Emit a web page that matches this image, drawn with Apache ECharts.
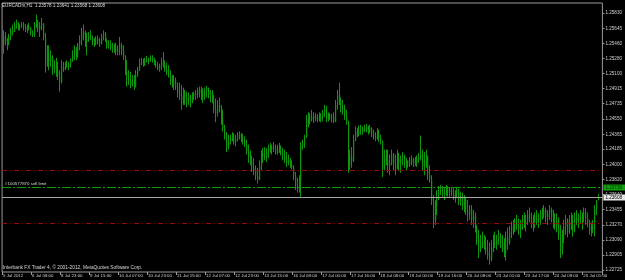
<!DOCTYPE html>
<html><head><meta charset="utf-8">
<script src="https://cdn.jsdelivr.net/npm/echarts@6/dist/echarts.min.js"></script>
<style>html,body{margin:0;padding:0;background:#000}#c{width:625px;height:280px}</style>
</head><body><div id="c"></div>
<script>
const symbolTitle = 'EURCADm,H1  1.23578 1.23641 1.23568 1.23608';
const footerText = 'Interbank FX Trader 4, \u00A9 2001-2012, MetaQuotes Software Corp.';
const orderLabel = '#100577870 sell limit';
const timeLabels = ['5 Jul 2012','6 Jul 08:00','8 Jul 23:00','9 Jul 15:00','10 Jul 07:00','10 Jul 23:00','11 Jul 15:00','12 Jul 07:00','12 Jul 23:00','13 Jul 15:00','16 Jul 08:00','17 Jul 00:00','17 Jul 16:00','18 Jul 08:00','19 Jul 00:00','19 Jul 16:00','20 Jul 08:00','23 Jul 01:00','23 Jul 17:00','24 Jul 09:00','25 Jul 01:00'];
const timeLabelBars = [0,16,32,48,64,80,96,112,128,144,160,176,192,208,224,240,256,272,288,304,320];
const priceTicks = [1.25830,1.25645,1.25460,1.25280,1.25100,1.24915,1.24735,1.24550,1.24365,1.24185,1.24000,1.23820,1.23640,1.23455,1.23270,1.23090,1.22905,1.22725];
const priceMin = 1.22701, priceMax = 1.25951;
const stopLossLevel = 1.23935;
const takeProfitLevel = 1.23290;
const sellLimitLevel = 1.23730;
const bidLevel = 1.23608;
// [open, high, low, close]
const ohlc = [
[1.2545,1.2562,1.2534,1.2555],[1.2555,1.2560,1.2544,1.2548],[1.2548,1.2553,1.2538,1.2545],[1.2545,1.2558,1.2544,1.2555],[1.2555,1.2565,1.2550,1.2562],
[1.2562,1.2569,1.2556,1.2560],[1.2560,1.2572,1.2560,1.2568],[1.2568,1.2575,1.2564,1.2571],[1.2571,1.2572,1.2562,1.2565],[1.2565,1.2570,1.2562,1.2567],
[1.2567,1.2572,1.2565,1.2569],[1.2569,1.2572,1.2562,1.2566],[1.2566,1.2570,1.2560,1.2563],[1.2563,1.2569,1.2559,1.2567],[1.2567,1.2571,1.2562,1.2565],
[1.2565,1.2566,1.2556,1.2559],[1.2559,1.2562,1.2554,1.2556],[1.2556,1.2572,1.2554,1.2569],[1.2569,1.2581,1.2565,1.2574],[1.2574,1.2575,1.2560,1.2563],
[1.2563,1.2572,1.2554,1.2568],[1.2568,1.2577,1.2562,1.2570],[1.2570,1.2571,1.2550,1.2553],[1.2553,1.2559,1.2511,1.2520],[1.2520,1.2544,1.2518,1.2532],
[1.2532,1.2544,1.2514,1.2525],[1.2525,1.2538,1.2518,1.2530],[1.2530,1.2532,1.2508,1.2515],[1.2515,1.2526,1.2510,1.2520],[1.2520,1.2529,1.2506,1.2512],
[1.2512,1.2524,1.2502,1.2507],[1.2507,1.2514,1.2488,1.2500],[1.2500,1.2526,1.2498,1.2518],[1.2518,1.2524,1.2512,1.2515],[1.2515,1.2524,1.2514,1.2520],
[1.2520,1.2526,1.2517,1.2518],[1.2518,1.2524,1.2514,1.2521],[1.2521,1.2528,1.2517,1.2526],[1.2526,1.2538,1.2524,1.2532],[1.2532,1.2544,1.2526,1.2540],
[1.2540,1.2542,1.2526,1.2530],[1.2530,1.2547,1.2529,1.2545],[1.2545,1.2556,1.2538,1.2550],[1.2550,1.2565,1.2544,1.2560],[1.2560,1.2569,1.2550,1.2556],
[1.2556,1.2562,1.2542,1.2548],[1.2548,1.2559,1.2532,1.2552],[1.2552,1.2560,1.2548,1.2556],[1.2556,1.2562,1.2550,1.2553],[1.2553,1.2556,1.2544,1.2548],
[1.2548,1.2553,1.2542,1.2545],[1.2545,1.2555,1.2544,1.2552],[1.2552,1.2556,1.2545,1.2549],[1.2549,1.2553,1.2542,1.2546],[1.2546,1.2558,1.2545,1.2555],
[1.2555,1.2562,1.2550,1.2558],[1.2558,1.2560,1.2548,1.2550],[1.2550,1.2552,1.2540,1.2543],[1.2543,1.2550,1.2540,1.2546],[1.2546,1.2550,1.2538,1.2541],
[1.2541,1.2547,1.2535,1.2539],[1.2539,1.2546,1.2535,1.2543],[1.2543,1.2547,1.2532,1.2536],[1.2536,1.2544,1.2532,1.2540],[1.2540,1.2554,1.2532,1.2545],
[1.2545,1.2547,1.2532,1.2537],[1.2537,1.2544,1.2526,1.2530],[1.2530,1.2532,1.2508,1.2512],[1.2512,1.2526,1.2494,1.2505],[1.2505,1.2514,1.2496,1.2500],
[1.2500,1.2512,1.2492,1.2496],[1.2496,1.2508,1.2494,1.2502],[1.2502,1.2508,1.2490,1.2494],[1.2494,1.2514,1.2493,1.2508],[1.2508,1.2518,1.2506,1.2515],
[1.2515,1.2528,1.2513,1.2522],[1.2522,1.2529,1.2520,1.2524],[1.2524,1.2528,1.2518,1.2520],[1.2520,1.2529,1.2519,1.2526],[1.2526,1.2531,1.2523,1.2524],
[1.2524,1.2529,1.2521,1.2527],[1.2527,1.2532,1.2524,1.2529],[1.2529,1.2532,1.2523,1.2525],[1.2525,1.2529,1.2520,1.2522],[1.2522,1.2526,1.2517,1.2519],
[1.2519,1.2524,1.2514,1.2516],[1.2516,1.2522,1.2512,1.2520],[1.2520,1.2529,1.2514,1.2523],[1.2523,1.2536,1.2517,1.2520],[1.2520,1.2526,1.2512,1.2515],
[1.2515,1.2523,1.2508,1.2511],[1.2511,1.2520,1.2505,1.2508],[1.2508,1.2514,1.2496,1.2499],[1.2499,1.2508,1.2493,1.2496],[1.2496,1.2508,1.2490,1.2502],
[1.2502,1.2505,1.2490,1.2494],[1.2494,1.2499,1.2481,1.2486],[1.2486,1.2499,1.2478,1.2483],[1.2483,1.2496,1.2466,1.2474],[1.2474,1.2493,1.2472,1.2488],
[1.2488,1.2490,1.2472,1.2480],[1.2480,1.2488,1.2469,1.2477],[1.2477,1.2487,1.2472,1.2483],[1.2483,1.2484,1.2469,1.2475],[1.2475,1.2487,1.2474,1.2482],
[1.2482,1.2488,1.2478,1.2486],[1.2486,1.2490,1.2478,1.2484],[1.2484,1.2493,1.2480,1.2490],[1.2490,1.2494,1.2481,1.2486],[1.2486,1.2494,1.2478,1.2490],
[1.2490,1.2492,1.2474,1.2480],[1.2480,1.2493,1.2478,1.2489],[1.2489,1.2495,1.2481,1.2492],[1.2492,1.2493,1.2480,1.2484],[1.2484,1.2490,1.2475,1.2488],
[1.2488,1.2490,1.2474,1.2478],[1.2478,1.2484,1.2462,1.2467],[1.2467,1.2480,1.2451,1.2462],[1.2462,1.2478,1.2458,1.2472],[1.2472,1.2481,1.2463,1.2468],
[1.2468,1.2472,1.2448,1.2454],[1.2454,1.2466,1.2440,1.2444],[1.2444,1.2448,1.2430,1.2436],[1.2436,1.2439,1.2415,1.2420],[1.2420,1.2436,1.2418,1.2428],
[1.2428,1.2436,1.2424,1.2432],[1.2432,1.2439,1.2428,1.2435],[1.2435,1.2438,1.2424,1.2427],[1.2427,1.2436,1.2422,1.2431],[1.2431,1.2439,1.2428,1.2436],
[1.2436,1.2440,1.2430,1.2433],[1.2433,1.2438,1.2427,1.2430],[1.2430,1.2437,1.2424,1.2428],[1.2428,1.2434,1.2421,1.2424],[1.2424,1.2430,1.2412,1.2416],
[1.2416,1.2424,1.2402,1.2408],[1.2408,1.2417,1.2399,1.2404],[1.2404,1.2411,1.2391,1.2396],[1.2396,1.2408,1.2387,1.2392],[1.2392,1.2399,1.2381,1.2386],
[1.2386,1.2396,1.2377,1.2382],[1.2382,1.2405,1.2381,1.2398],[1.2398,1.2417,1.2393,1.2410],[1.2410,1.2420,1.2402,1.2414],[1.2414,1.2421,1.2405,1.2408],
[1.2408,1.2420,1.2403,1.2416],[1.2416,1.2424,1.2408,1.2420],[1.2420,1.2426,1.2414,1.2418],[1.2418,1.2424,1.2412,1.2422],[1.2422,1.2427,1.2415,1.2420],
[1.2420,1.2424,1.2412,1.2414],[1.2414,1.2424,1.2412,1.2419],[1.2419,1.2426,1.2414,1.2416],[1.2416,1.2423,1.2411,1.2413],[1.2413,1.2420,1.2405,1.2410],
[1.2410,1.2418,1.2402,1.2406],[1.2406,1.2415,1.2397,1.2402],[1.2402,1.2412,1.2399,1.2405],[1.2405,1.2408,1.2396,1.2400],[1.2400,1.2405,1.2394,1.2396],
[1.2396,1.2399,1.2381,1.2386],[1.2386,1.2391,1.2369,1.2374],[1.2374,1.2384,1.2366,1.2372],[1.2372,1.2387,1.2366,1.2380],[1.2380,1.2427,1.2361,1.2422],
[1.2422,1.2430,1.2418,1.2425],[1.2425,1.2436,1.2420,1.2433],[1.2433,1.2460,1.2432,1.2456],[1.2456,1.2463,1.2445,1.2450],[1.2450,1.2462,1.2448,1.2458],
[1.2458,1.2466,1.2452,1.2455],[1.2455,1.2463,1.2450,1.2459],[1.2459,1.2462,1.2452,1.2454],[1.2454,1.2461,1.2451,1.2458],[1.2458,1.2463,1.2452,1.2455],
[1.2455,1.2462,1.2451,1.2457],[1.2457,1.2466,1.2452,1.2462],[1.2462,1.2472,1.2457,1.2466],[1.2466,1.2471,1.2451,1.2455],[1.2455,1.2463,1.2452,1.2460],
[1.2460,1.2462,1.2454,1.2456],[1.2456,1.2461,1.2451,1.2458],[1.2458,1.2463,1.2450,1.2452],[1.2452,1.2478,1.2451,1.2472],[1.2472,1.2490,1.2466,1.2484],
[1.2484,1.2499,1.2472,1.2478],[1.2478,1.2481,1.2463,1.2470],[1.2470,1.2478,1.2460,1.2467],[1.2467,1.2472,1.2454,1.2458],[1.2458,1.2466,1.2448,1.2452],
[1.2452,1.2453,1.2390,1.2400],[1.2400,1.2418,1.2393,1.2410],[1.2410,1.2421,1.2396,1.2404],[1.2404,1.2436,1.2403,1.2430],[1.2430,1.2446,1.2428,1.2440],
[1.2440,1.2444,1.2433,1.2436],[1.2436,1.2447,1.2434,1.2442],[1.2442,1.2448,1.2436,1.2440],[1.2440,1.2446,1.2436,1.2444],[1.2444,1.2448,1.2439,1.2441],
[1.2441,1.2449,1.2439,1.2445],[1.2445,1.2447,1.2436,1.2439],[1.2439,1.2448,1.2438,1.2444],[1.2444,1.2445,1.2433,1.2437],[1.2437,1.2442,1.2430,1.2434],
[1.2434,1.2439,1.2428,1.2431],[1.2431,1.2444,1.2430,1.2440],[1.2440,1.2442,1.2427,1.2432],[1.2432,1.2436,1.2424,1.2428],[1.2428,1.2429,1.2385,1.2395],
[1.2395,1.2418,1.2393,1.2410],[1.2410,1.2418,1.2399,1.2405],[1.2405,1.2418,1.2390,1.2398],[1.2398,1.2412,1.2387,1.2402],[1.2402,1.2418,1.2399,1.2412],
[1.2412,1.2414,1.2393,1.2400],[1.2400,1.2412,1.2387,1.2395],[1.2395,1.2418,1.2394,1.2408],[1.2408,1.2414,1.2393,1.2402],[1.2402,1.2411,1.2390,1.2406],
[1.2406,1.2415,1.2399,1.2410],[1.2410,1.2412,1.2396,1.2400],[1.2400,1.2408,1.2393,1.2404],[1.2404,1.2405,1.2396,1.2399],[1.2399,1.2409,1.2397,1.2405],
[1.2405,1.2411,1.2399,1.2402],[1.2402,1.2408,1.2397,1.2406],[1.2406,1.2409,1.2398,1.2403],[1.2403,1.2411,1.2397,1.2408],[1.2408,1.2414,1.2402,1.2406],
[1.2406,1.2435,1.2405,1.2412],[1.2412,1.2418,1.2393,1.2398],[1.2398,1.2415,1.2387,1.2405],[1.2405,1.2418,1.2396,1.2410],[1.2410,1.2411,1.2381,1.2388],
[1.2388,1.2399,1.2378,1.2382],[1.2382,1.2387,1.2351,1.2356],[1.2356,1.2363,1.2323,1.2332],[1.2332,1.2357,1.2327,1.2350],[1.2350,1.2369,1.2339,1.2362],
[1.2362,1.2374,1.2357,1.2368],[1.2368,1.2375,1.2363,1.2370],[1.2370,1.2374,1.2360,1.2364],[1.2364,1.2372,1.2357,1.2368],[1.2368,1.2375,1.2362,1.2372],
[1.2372,1.2374,1.2361,1.2366],[1.2366,1.2372,1.2360,1.2369],[1.2369,1.2373,1.2362,1.2365],[1.2365,1.2372,1.2357,1.2360],[1.2360,1.2369,1.2354,1.2365],
[1.2365,1.2373,1.2360,1.2370],[1.2370,1.2371,1.2351,1.2356],[1.2356,1.2367,1.2350,1.2362],[1.2362,1.2366,1.2345,1.2350],[1.2350,1.2363,1.2342,1.2357],
[1.2357,1.2361,1.2339,1.2345],[1.2345,1.2357,1.2331,1.2340],[1.2340,1.2351,1.2333,1.2346],[1.2346,1.2351,1.2327,1.2333],[1.2333,1.2345,1.2323,1.2338],
[1.2338,1.2342,1.2318,1.2325],[1.2325,1.2327,1.2303,1.2310],[1.2310,1.2321,1.2287,1.2298],[1.2298,1.2315,1.2294,1.2306],[1.2306,1.2319,1.2299,1.2302],
[1.2302,1.2315,1.2297,1.2300],[1.2300,1.2313,1.2291,1.2295],[1.2295,1.2309,1.2285,1.2290],[1.2290,1.2306,1.2279,1.2285],[1.2285,1.2309,1.2283,1.2300],
[1.2300,1.2315,1.2294,1.2306],[1.2306,1.2319,1.2299,1.2303],[1.2303,1.2315,1.2297,1.2309],[1.2309,1.2321,1.2303,1.2313],[1.2313,1.2317,1.2299,1.2305],
[1.2305,1.2315,1.2294,1.2298],[1.2298,1.2311,1.2288,1.2293],[1.2293,1.2319,1.2284,1.2312],[1.2312,1.2324,1.2297,1.2305],[1.2305,1.2326,1.2303,1.2318],
[1.2318,1.2331,1.2311,1.2325],[1.2325,1.2333,1.2315,1.2320],[1.2320,1.2335,1.2318,1.2330],[1.2330,1.2339,1.2321,1.2326],[1.2326,1.2335,1.2315,1.2322],
[1.2322,1.2333,1.2311,1.2330],[1.2330,1.2339,1.2321,1.2335],[1.2335,1.2342,1.2323,1.2328],[1.2328,1.2339,1.2319,1.2332],[1.2332,1.2345,1.2327,1.2340],
[1.2340,1.2348,1.2330,1.2335],[1.2335,1.2342,1.2323,1.2328],[1.2328,1.2339,1.2319,1.2333],[1.2333,1.2342,1.2323,1.2338],[1.2338,1.2345,1.2327,1.2332],
[1.2332,1.2341,1.2323,1.2336],[1.2336,1.2345,1.2327,1.2341],[1.2341,1.2348,1.2333,1.2338],[1.2338,1.2351,1.2335,1.2345],[1.2345,1.2348,1.2330,1.2336],
[1.2336,1.2345,1.2327,1.2341],[1.2341,1.2351,1.2333,1.2346],[1.2346,1.2348,1.2330,1.2337],[1.2337,1.2345,1.2323,1.2330],[1.2330,1.2341,1.2321,1.2325],
[1.2325,1.2341,1.2318,1.2334],[1.2334,1.2336,1.2309,1.2315],[1.2315,1.2327,1.2287,1.2296],[1.2296,1.2321,1.2291,1.2310],[1.2310,1.2333,1.2305,1.2325],
[1.2325,1.2339,1.2315,1.2333],[1.2333,1.2335,1.2312,1.2318],[1.2318,1.2339,1.2316,1.2330],[1.2330,1.2342,1.2321,1.2327],[1.2327,1.2339,1.2313,1.2320],
[1.2320,1.2342,1.2318,1.2336],[1.2336,1.2345,1.2327,1.2332],[1.2332,1.2341,1.2323,1.2338],[1.2338,1.2345,1.2328,1.2333],[1.2333,1.2342,1.2321,1.2337],
[1.2337,1.2348,1.2330,1.2343],[1.2343,1.2347,1.2327,1.2335],[1.2335,1.2342,1.2324,1.2330],[1.2330,1.2333,1.2315,1.2320],[1.2320,1.2330,1.2313,1.2325],
[1.2325,1.2333,1.2317,1.2322],[1.2322,1.2351,1.2313,1.2346],[1.2346,1.2357,1.2339,1.2355],[1.23578,1.23641,1.23568,1.23608]
];
const extraSlots = 2;

const categories = ohlc.map((_, i) => String(i));
for (let k = 0; k < extraSlots; k++) categories.push(String(ohlc.length + k));
const labelAt = {};
timeLabelBars.forEach((b, i) => { labelAt[b] = timeLabels[i]; });
const candleData = ohlc.map((d, i) => [i, d[0], d[1], d[2], d[3]]);

const FONT = 'Liberation Sans';
const WICK = '#0e960e', BODY = '#064406';

function renderBar(params, api) {
  const i = api.value(0);
  const pO = api.coord([i, api.value(1)]);
  const pH = api.coord([i, api.value(2)]);
  const pL = api.coord([i, api.value(3)]);
  const pC = api.coord([i, api.value(4)]);
  const x = Math.round(pH[0]) + 0.5;
  const top = Math.min(pO[1], pC[1]), bot = Math.max(pO[1], pC[1]);
  return {type: 'group', children: [
    {type: 'rect', shape: {x: x - 0.5, y: top, width: 1.5, height: Math.max(bot - top, 0.6)}, style: {fill: BODY}},
    {type: 'line', shape: {x1: x, y1: pH[1], x2: x, y2: pL[1]}, style: {stroke: WICK, lineWidth: 1}}
  ]};
}

const levelDefs = [
  {value: stopLossLevel, color: '#8e1010', dash: [5, 3, 1, 3]},
  {value: takeProfitLevel, color: '#8e1010', dash: [5, 3, 1, 3]},
  {value: sellLimitLevel, color: '#0fa00f', dash: [9, 2, 2, 2], leftText: orderLabel, box: {bg: '#10a010', fg: '#052805'}},
  {value: bidLevel, color: '#a8a8a8', dash: null, box: {bg: '#e6e6e6', fg: '#000000'}}
];
function renderLevel(params, api) {
  const def = levelDefs[params.dataIndex];
  const cs = params.coordSys;
  const y = Math.round(api.coord([0, api.value(1)])[1]) + 0.5;
  const children = [
    {type: 'line', shape: {x1: cs.x, y1: y, x2: cs.x + cs.width, y2: y}, style: {stroke: def.color, lineWidth: 1, lineDash: def.dash}}
  ];
  if (def.leftText) {
    children.push({type: 'text', x: cs.x + 3, y: y - 1.5, style: {text: def.leftText, fill: '#d8d8d8', fontSize: 4.4, fontFamily: FONT, verticalAlign: 'bottom', align: 'left'}});
  }
  if (def.box) {
    children.push({type: 'text', x: cs.x + cs.width + 1, y: y, style: {text: def.value.toFixed(5), fill: def.box.fg, backgroundColor: def.box.bg, padding: [1, 6, 0, 2], fontSize: 4.6, fontFamily: FONT, verticalAlign: 'middle', align: 'left'}});
  }
  return {type: 'group', children: children};
}

const chart = echarts.init(document.getElementById('c'), null, {renderer: 'canvas'});
chart.setOption({
  backgroundColor: '#000000',
  animation: false,
  title: [
    {text: symbolTitle, left: 2, top: 3, padding: 0, textStyle: {color: '#d8d8d8', fontSize: 4.6, fontWeight: 'normal', fontFamily: FONT}},
    {text: footerText, left: 3, top: 265, padding: 0, textStyle: {color: '#d8d8d8', fontSize: 4.8, fontWeight: 'normal', fontFamily: FONT}}
  ],
  grid: {left: 1, right: 18, top: 3, bottom: 8, show: true, borderColor: '#9a9a9a', borderWidth: 1, backgroundColor: '#000000', containLabel: false},
  xAxis: {
    type: 'category', data: categories, boundaryGap: true,
    axisLine: {show: false},
    axisTick: {show: true, length: 3, interval: (i) => labelAt[i] !== undefined, lineStyle: {color: '#9a9a9a'}},
    axisLabel: {show: true, interval: (i) => labelAt[i] !== undefined, formatter: (v, i) => labelAt[i] || '', align: 'left', margin: 2, color: '#d0d0d0', fontSize: 4.4, fontFamily: FONT},
    splitLine: {show: false}
  },
  yAxis: {
    type: 'value', position: 'right', min: priceMin, max: priceMax, scale: true,
    axisLine: {show: false},
    axisTick: {show: true, length: 2, inside: false, customValues: priceTicks, lineStyle: {color: '#9a9a9a'}},
    axisLabel: {show: true, customValues: priceTicks, formatter: (v) => v.toFixed(5), margin: 3, color: '#d0d0d0', fontSize: 4.6, fontFamily: FONT},
    splitLine: {show: false}
  },
  series: [
    {type: 'custom', renderItem: renderBar, data: candleData, encode: {x: 0, y: [1, 2, 3, 4]}, clip: true, silent: true, z: 2},
    {type: 'custom', renderItem: renderLevel, data: levelDefs.map(d => [0, d.value]), encode: {x: 0, y: 1}, clip: false, silent: true, z: 3}
  ]
});
</script>
</body></html>
